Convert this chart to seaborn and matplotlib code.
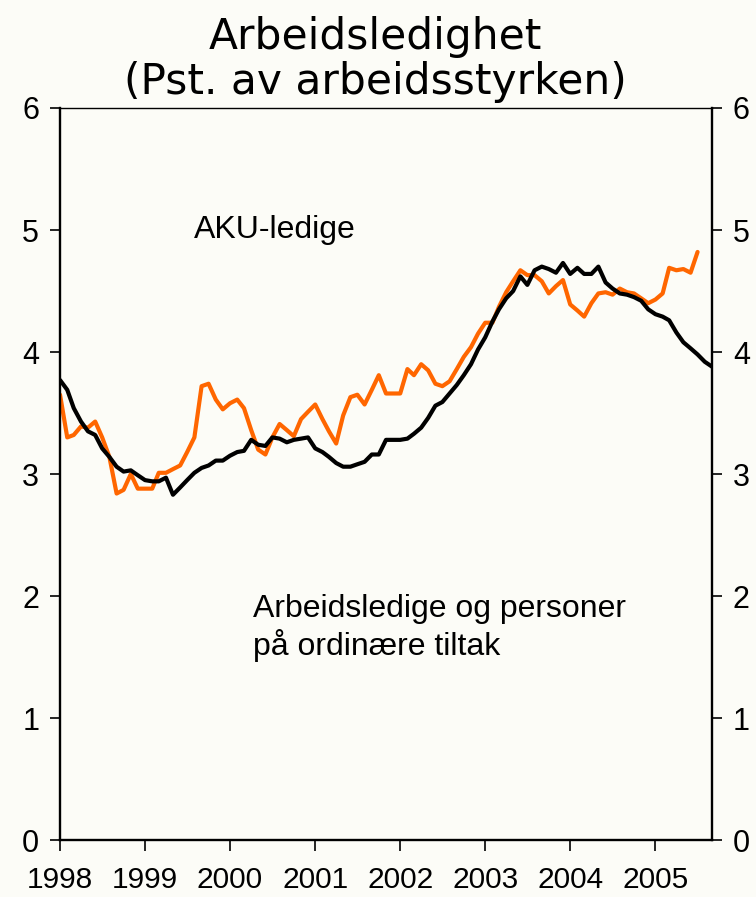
import matplotlib
matplotlib.use("Agg")
import matplotlib.pyplot as plt
import matplotlib.dates as mdates
import seaborn as sns
import pandas as pd


# Data (monthly, from Jan 1998)
start_month = "1998-01"

registrerte = [
    3.77, 3.69, 3.54, 3.43, 3.35, 3.32, 3.21, 3.14, 3.06, 3.02,
    3.03, 2.99, 2.95, 2.94, 2.94, 2.97, 2.83, 2.89, 2.95, 3.01,
    3.05, 3.07, 3.11, 3.11, 3.15, 3.18, 3.19, 3.28, 3.24, 3.23,
    3.30, 3.29, 3.26, 3.28, 3.29, 3.30, 3.21, 3.18, 3.14, 3.09,
    3.06, 3.06, 3.08, 3.10, 3.16, 3.16, 3.28, 3.28, 3.28, 3.29,
    3.33, 3.38, 3.46, 3.56, 3.59, 3.66, 3.73, 3.81, 3.90, 4.02,
    4.12, 4.25, 4.35, 4.44, 4.50, 4.62, 4.55, 4.67, 4.70, 4.68,
    4.65, 4.73, 4.64, 4.69, 4.64, 4.64, 4.70, 4.57, 4.52, 4.48,
    4.47, 4.45, 4.42, 4.35, 4.31, 4.29, 4.26, 4.16, 4.08, 4.03,
    3.98, 3.92, 3.88,
]

aku = [
    3.65, 3.30, 3.32, 3.39, 3.38, 3.43, 3.30, 3.14, 2.84, 2.87,
    3.00, 2.88, 2.88, 2.88, 3.01, 3.01, 3.04, 3.07, 3.18, 3.30,
    3.72, 3.74, 3.61, 3.53, 3.58, 3.61, 3.54, 3.36, 3.20, 3.16,
    3.30, 3.41, 3.36, 3.31, 3.45, 3.51, 3.57, 3.45, 3.35, 3.25,
    3.48, 3.63, 3.65, 3.57, 3.69, 3.81, 3.66, 3.66, 3.66, 3.86,
    3.81, 3.90, 3.85, 3.74, 3.72, 3.76, 3.86, 3.96, 4.04, 4.15,
    4.24, 4.24, 4.37, 4.49, 4.58, 4.67, 4.63, 4.63, 4.58, 4.48,
    4.54, 4.59, 4.39, 4.34, 4.29, 4.40, 4.48, 4.49, 4.47, 4.52,
    4.49, 4.48, 4.44, 4.40, 4.43, 4.48, 4.69, 4.67, 4.68, 4.65,
    4.82,
]

years = list(range(1998, 2006))
y_ticks = [0, 1, 2, 3, 4, 5, 6]


# Frame
df_reg = pd.DataFrame({
    "dato": pd.date_range(start_month, periods=len(registrerte), freq="MS"),
    "verdi": registrerte,
    "serie": "Arbeidsledige og personer på ordinære tiltak",
})
df_aku = pd.DataFrame({
    "dato": pd.date_range(start_month, periods=len(aku), freq="MS"),
    "verdi": aku,
    "serie": "AKU-ledige",
})
df = pd.concat([df_aku, df_reg], ignore_index=True)


# Figure
sns.set_style("white")
plt.rcParams["font.family"] = ["Liberation Sans", "DejaVu Sans"]
plt.rcParams["text.color"] = "black"
plt.rcParams["xtick.color"] = "black"
plt.rcParams["ytick.color"] = "black"

bg = "#FCFCF7"
fig = plt.figure(figsize=(7.56, 8.97), dpi=100, facecolor=bg)
ax = fig.add_axes([0.0794, 0.0635, 0.8624, 0.8161])
ax.set_facecolor(bg)

sns.lineplot(
    data=df,
    x="dato",
    y="verdi",
    hue="serie",
    palette={
        "AKU-ledige": "#FF6600",
        "Arbeidsledige og personer på ordinære tiltak": "#000000",
    },
    linewidth=3.0,
    legend=False,
    ax=ax,
)

ax.set_xlim(pd.Timestamp("1998-01-01"), pd.Timestamp("2005-09-01"))
ax.set_ylim(0, 6)

ax.set_xticks([pd.Timestamp(f"{y}-01-01") for y in years])
ax.xaxis.set_major_formatter(mdates.DateFormatter("%Y"))
ax.set_yticks(y_ticks)

ax.tick_params(
    axis="y", left=True, right=True, labelleft=True, labelright=True,
    direction="out", length=7, width=1.2, labelsize=22, pad=8,
    colors="black"
)
ax.tick_params(
    axis="x", bottom=True, direction="out", length=8, width=1.2,
    labelsize=21.5, pad=11, colors="black"
)

for side in ["left", "right", "bottom"]:
    ax.spines[side].set_linewidth(1.7)
    ax.spines[side].set_color("black")
ax.spines["top"].set_linewidth(1.0)
ax.spines["top"].set_color("black")

ax.set_xlabel("")
ax.set_ylabel("")


# Title
fig.text(
    0.497, 0.982,
    "Arbeidsledighet\n(Pst. av arbeidsstyrken)",
    ha="center", va="top", fontsize=30.5, family="DejaVu Sans",
    linespacing=1.1, color="black"
)


# Labels
ax.text(
    pd.Timestamp("1999-08-01"), 5.0, "AKU-ledige",
    fontsize=23, va="center", ha="left", color="black"
)
ax.text(
    pd.Timestamp("2000-04-10"), 1.74,
    "Arbeidsledige og personer\npå ordinære tiltak",
    fontsize=23, va="center", ha="left", linespacing=1.2, color="black"
)

fig.savefig("out.png", dpi=100, facecolor=bg)
